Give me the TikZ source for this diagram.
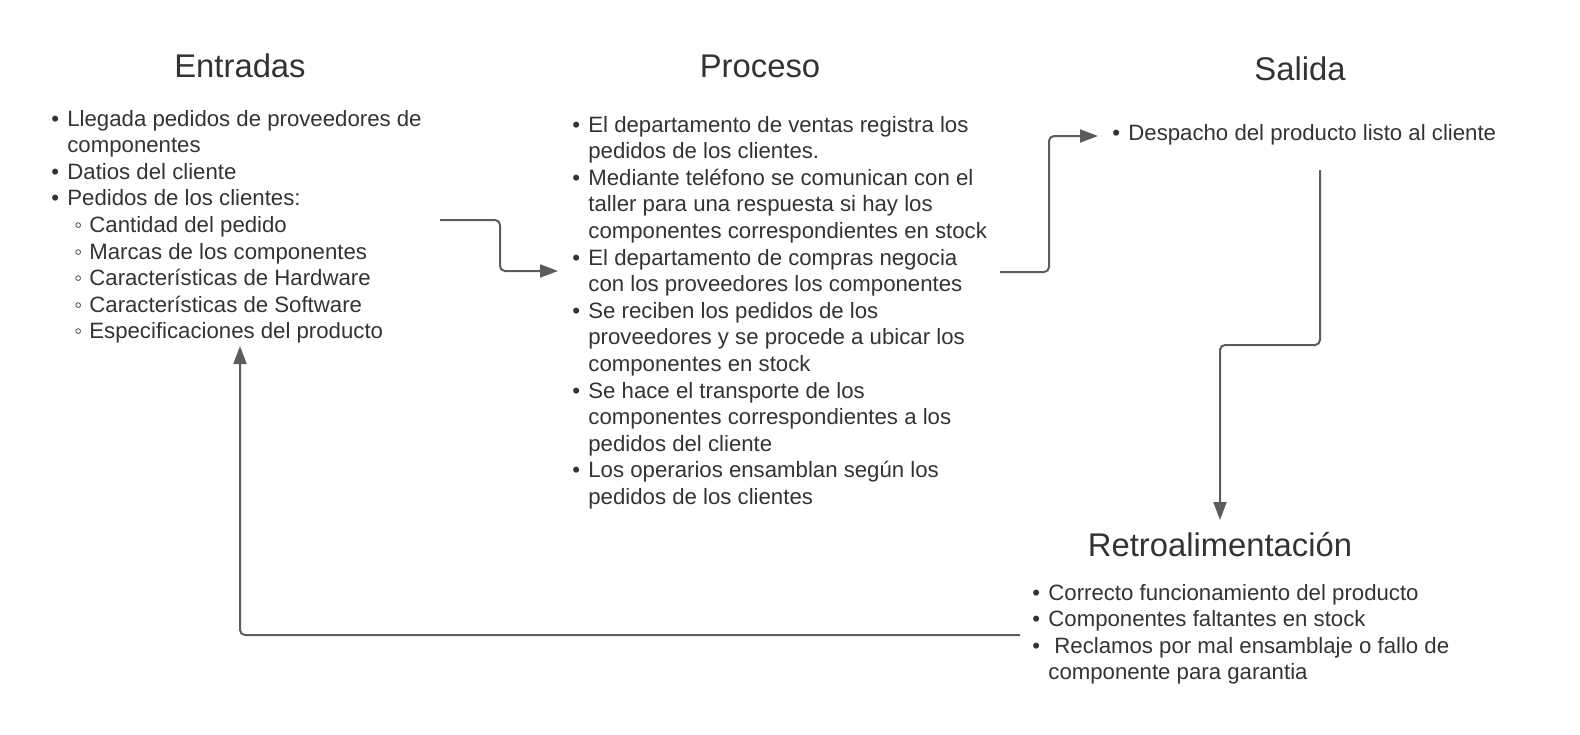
\documentclass[tikz,border=0pt]{standalone}
\usepackage{fontspec}
\setmainfont{Liberation Sans}
\usepackage{xcolor}
\usetikzlibrary{arrows.meta}
\definecolor{txtgray}{HTML}{333333}
\definecolor{linegray}{HTML}{5C5C5C}
\newcommand{\bul}{\makebox[8pt][l]{\textbullet}}
\newcommand{\subbul}{\makebox[11pt][l]{\hspace{3.5pt}◦}}

\begin{document}
\begin{tikzpicture}[x=0.5pt,y=-0.5pt]
\useasboundingbox (0,0) rectangle (1580,734);
\tikzstyle{title}=[anchor=base,inner sep=0pt,text=txtgray,font=\fontsize{16.4}{20}\selectfont]
\tikzstyle{list}=[anchor=base west,inner sep=0pt,text=txtgray,font=\fontsize{11.1}{13.3}\selectfont]
\tikzstyle{flow}=[->,>={Triangle[length=9pt,width=6.5pt]},line width=1pt,color=linegray,rounded corners=2.5pt]

% titles
\node[title] (entradas) at (240,77) {Entradas};
\node[title] (proceso) at (760,77) {Proceso};
\node[title] (salida) at (1300,80) {Salida};
\node[title] (retro) at (1220,556) {Retroalimentación};

% lists
\node[list] (entList) at (51,126) {\begin{tabular}[t]{@{}l@{}l@{}}
\bul & Llegada pedidos de proveedores de\\
 & componentes\\
\bul & Datios del cliente\\
\bul & Pedidos de los clientes:\\
 & \subbul Cantidad del pedido\\
 & \subbul Marcas de los componentes\\
 & \subbul Características de Hardware\\
 & \subbul Características de Software\\
 & \subbul Especificaciones del producto
\end{tabular}};

\node[list] (procList) at (572,132) {\begin{tabular}[t]{@{}l@{}l@{}}
\bul & El departamento de ventas registra los\\
 & pedidos de los clientes.\\
\bul & Mediante teléfono se comunican con el\\
 & taller para una respuesta si hay los\\
 & componentes correspondientes en stock\\
\bul & El departamento de compras negocia\\
 & con los proveedores los componentes\\
\bul & Se reciben los pedidos de los\\
 & proveedores y se procede a ubicar los\\
 & componentes en stock\\
\bul & Se hace el transporte de los\\
 & componentes correspondientes a los\\
 & pedidos del cliente\\
\bul & Los operarios ensamblan según los\\
 & pedidos de los clientes
\end{tabular}};

\node[list] (salList) at (1112,140) {\begin{tabular}[t]{@{}l@{}l@{}}
\bul & Despacho del producto listo al cliente
\end{tabular}};

\node[list] (retList) at (1032,600) {\begin{tabular}[t]{@{}l@{}l@{}}
\bul & Correcto funcionamiento del producto\\
\bul & Componentes faltantes en stock\\
\bul & \hspace{3pt}Reclamos por mal ensamblaje o fallo de\\
 & componente para garantia
\end{tabular}};

% connector ends
\coordinate (entOut) at (440,220);
\coordinate (procIn) at (558,271);
\coordinate (procOut) at (1000,272);
\coordinate (salIn) at (1098,136);
\coordinate (salOut) at (1320,170);
\coordinate (retIn) at (1220,520);
\coordinate (retOut) at (1020,635);
\coordinate (entIn) at (240,346);

\draw[flow] (entOut) -- ++(60,0) |- (procIn);
\draw[flow] (procOut) -- ++(49,0) |- (salIn);
\draw[flow] (salOut) -- ++(0,175) -| (retIn);
\draw[flow] (retOut) -| (entIn);
\end{tikzpicture}
\end{document}
